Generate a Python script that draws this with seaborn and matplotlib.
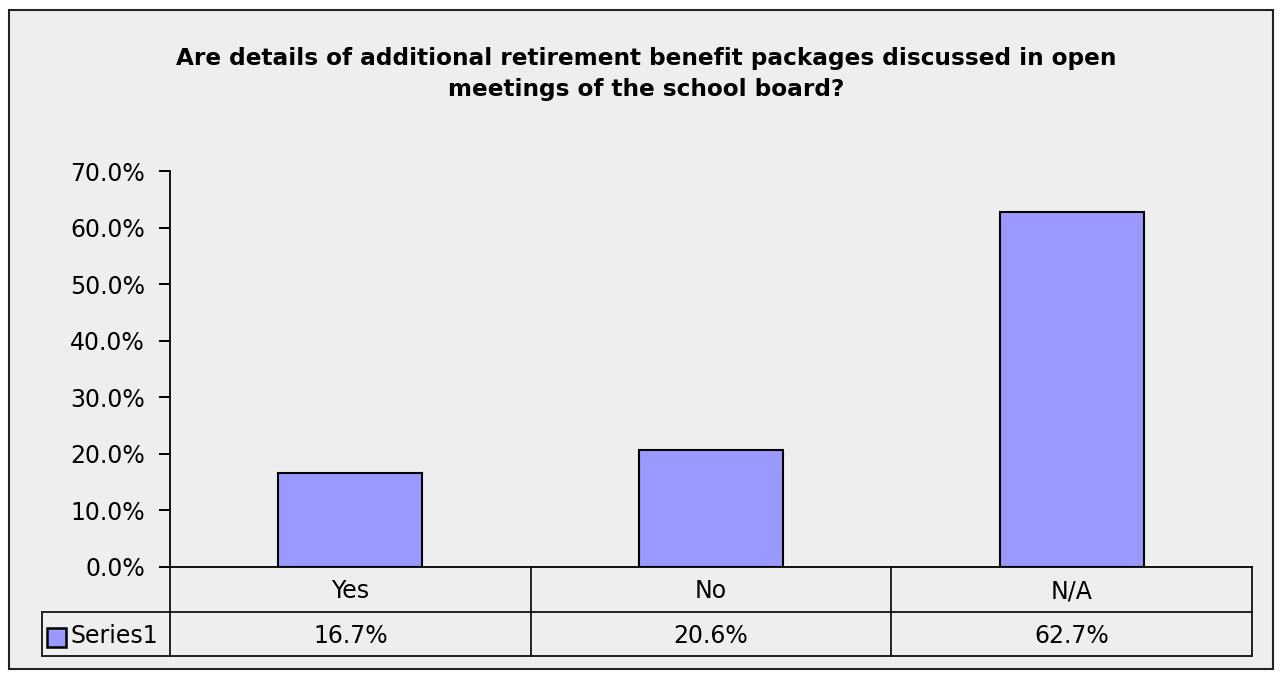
import matplotlib
matplotlib.use("Agg")
import matplotlib.pyplot as plt
import matplotlib.transforms as mtransforms
from matplotlib.lines import Line2D
from matplotlib.patches import Rectangle
import seaborn as sns
import pandas as pd

categories = ["Yes", "No", "N/A"]
values = [16.7, 20.6, 62.7]
series_name = "Series1"
title = "Are details of additional retirement benefit packages discussed in open\nmeetings of the school board?"
y_ticks = [0, 10, 20, 30, 40, 50, 60, 70]

bg = "#EEEEEE"
bar_color = "#9999FF"

sns.set_theme(style="white")
plt.rcParams["font.family"] = ["DejaVu Sans"]

W, H = 1283, 679
fig = plt.figure(figsize=(W / 100, H / 100), dpi=100, facecolor="white")

def fx(px):
    return px / W

def fy(py):
    return 1 - py / H

# chart area background and border
fig.patches.append(Rectangle((fx(9), fy(669)), fx(1273) - fx(9), fy(10) - fy(669),
                             transform=fig.transFigure, facecolor=bg,
                             edgecolor="#222222", linewidth=1.5, zorder=-5))

fig.text(fx(646), fy(74), title, ha="center", va="center", fontsize=16.7,
         fontweight="bold", linespacing=1.45, color="black")

plot_l, plot_r, plot_t, plot_b = 170, 1252, 171, 567
ax = fig.add_axes([fx(plot_l), fy(plot_b), fx(plot_r) - fx(plot_l), fy(plot_t) - fy(plot_b)])
ax.set_facecolor(bg)
ax.patch.set_alpha(0)

df = pd.DataFrame({"category": categories, "value": values})
sns.barplot(data=df, x="category", y="value", color=bar_color, saturation=1,
            edgecolor="black", linewidth=1.5, width=0.4, ax=ax)

fs = 17
ax.set_xlim(-0.5, len(categories) - 0.5)
ax.set_ylim(0, 70)
ax.set_yticks(y_ticks)
ax.set_yticklabels([f"{t:.1f}%" for t in y_ticks], fontsize=fs, color="black")
ax.tick_params(axis="y", direction="out", length=8, width=1.4, color="black",
               pad=10, left=True)
ax.set_xticks([])
ax.set_xlabel("")
ax.set_ylabel("")
for side in ["top", "right"]:
    ax.spines[side].set_visible(False)
for side in ["left", "bottom"]:
    ax.spines[side].set_color("black")
    ax.spines[side].set_linewidth(1.3)

# data table under the axis
blend = mtransforms.blended_transform_factory(ax.transData, fig.transFigure)
row1_b, row2_b = 612, 656
lw = 1.2
n = len(categories)
bounds = [i - 0.5 for i in range(n + 1)]
for b in bounds:
    ax.add_line(Line2D([b, b], [fy(plot_b), fy(row2_b)], transform=blend,
                       color="black", lw=lw, clip_on=False))
for yy in (row1_b, row2_b):
    ax.add_line(Line2D([fx(42), fx(plot_r)], [fy(yy), fy(yy)], transform=fig.transFigure,
                       color="black", lw=lw, clip_on=False))
ax.add_line(Line2D([fx(42), fx(42)], [fy(row1_b), fy(row2_b)], transform=fig.transFigure,
                   color="black", lw=lw, clip_on=False))

for i, (cat, val) in enumerate(zip(categories, values)):
    ax.text(i, fy((plot_b + row1_b) / 2 + 2), cat, transform=blend, ha="center",
            va="center", fontsize=fs, color="black")
    ax.text(i, fy((row1_b + row2_b) / 2 + 2), f"{val:.1f}%", transform=blend, ha="center",
            va="center", fontsize=fs, color="black")

# legend key in the table row header
fig.patches.append(Rectangle((fx(47), fy(647)), fx(66) - fx(47), fy(628) - fy(647),
                             transform=fig.transFigure, facecolor=bar_color,
                             edgecolor="black", linewidth=1.8, zorder=3))
fig.text(fx(70), fy(636), series_name, ha="left", va="center", fontsize=fs, color="black")

fig.savefig("out.png", dpi=100, facecolor="white")
